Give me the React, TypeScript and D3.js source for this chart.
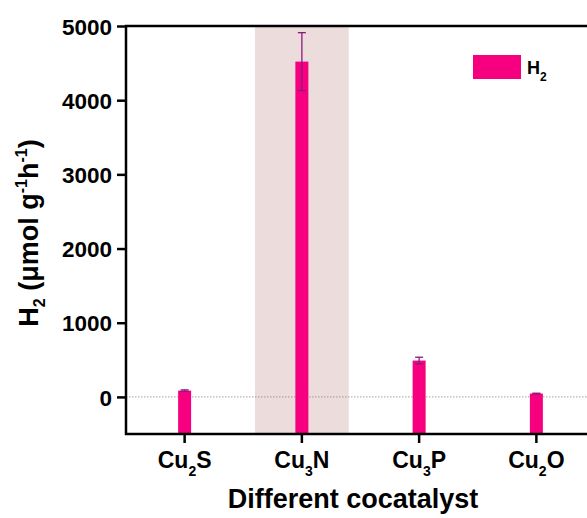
import React, { useEffect, useRef } from "react";
import * as d3 from "d3";

// catalysts and measured H2 evolution rates (µmol g-1 h-1)
const names = ["Cu2S", "Cu3N", "Cu3P", "Cu2O"];
const bases = ["Cu", "Cu", "Cu", "Cu"];
const subs = ["2", "3", "3", "2"];
const tails = ["S", "N", "P", "O"];
const rates = [85, 4520, 490, 45];
const errors = [10, 390, 45, 5];
const yTicks = [0, 1000, 2000, 3000, 4000, 5000];
const highlighted = "Cu3N";

const FONT = "'Liberation Sans', Arial, Helvetica, sans-serif";
const PINK = "#f7007f";

function App() {
  const ref = useRef<SVGSVGElement>(null);

  useEffect(() => {
    drawChart();
  }, []);

  function drawChart() {
    const svg = d3.select(ref.current);
    svg.selectAll("*").remove();

    const left = 126, right = 595, top = 26, bottom = 434;

    const x = d3.scaleBand<string>().domain(names).range([left, right]).padding(0);
    const y = d3.scaleLinear().domain([-500, 5000]).range([bottom, top]);
    const cx = (n: string) => (x(n) as number) + x.bandwidth() / 2;
    const barW = 13;

    // highlight band
    svg.append("rect")
      .attr("x", cx(highlighted) - x.bandwidth() * 0.4)
      .attr("y", top)
      .attr("width", x.bandwidth() * 0.8)
      .attr("height", bottom - top)
      .attr("fill", "#ecdcdc");

    // zero line
    svg.append("line")
      .attr("x1", left).attr("x2", 587)
      .attr("y1", y(0)).attr("y2", y(0))
      .attr("stroke", "#888").attr("stroke-width", 0.8)
      .attr("stroke-dasharray", "1.5,1.5");

    // bars from the bottom of the frame
    svg.append("g").selectAll("rect")
      .data(names)
      .join("rect")
      .attr("x", d => cx(d) - barW / 2)
      .attr("y", (d, i) => y(rates[i]))
      .attr("width", barW)
      .attr("height", (d, i) => bottom - y(rates[i]))
      .attr("fill", PINK);

    // error bars
    const eg = svg.append("g").attr("stroke", "#8a1a7e").attr("stroke-width", 1.3);
    names.forEach((n, i) => {
      const c = cx(n);
      const hi = y(rates[i] + errors[i]);
      const lo = y(rates[i] - errors[i]);
      eg.append("line").attr("x1", c).attr("x2", c).attr("y1", hi).attr("y2", lo);
      eg.append("line").attr("x1", c - 4).attr("x2", c + 4).attr("y1", hi).attr("y2", hi);
      eg.append("line").attr("x1", c - 4).attr("x2", c + 4).attr("y1", lo).attr("y2", lo);
    });

    // frame: left, bottom, top
    const frame = svg.append("g").attr("stroke", "#000").attr("stroke-width", 2.5).attr("fill", "none");
    frame.append("path").attr("d", `M587,${top}H${left}V${bottom}H587`);

    // y axis
    const yAxis = svg.append("g")
      .attr("transform", `translate(${left},0)`)
      .call(d3.axisLeft(y).tickValues(yTicks).tickSize(9).tickFormat(d3.format("d")));
    yAxis.select(".domain").remove();
    yAxis.selectAll(".tick line").attr("stroke-width", 2.5);
    yAxis.selectAll(".tick text")
      .attr("x", -14)
      .attr("dy", "0.36em")
      .style("font-family", FONT)
      .style("font-weight", "bold")
      .style("font-size", "22.5px")
      .attr("fill", "#000");

    // x axis
    const xAxis = svg.append("g")
      .attr("transform", `translate(0,${bottom})`)
      .call(d3.axisBottom(x).tickSize(9).tickFormat(() => ""));
    xAxis.select(".domain").remove();
    xAxis.selectAll(".tick line").attr("stroke-width", 2.5);

    names.forEach((n, i) => {
      const t = svg.append("text")
        .attr("x", cx(n))
        .attr("y", 468)
        .attr("text-anchor", "middle")
        .style("font-family", FONT)
        .style("font-weight", "bold")
        .style("font-size", "23px");
      t.append("tspan").text(bases[i]);
      t.append("tspan").attr("dy", 8).style("font-size", "14px").text(subs[i]);
      t.append("tspan").attr("dy", -8).text(tails[i]);
    });

    // x title
    svg.append("text")
      .attr("x", 353)
      .attr("y", 508)
      .attr("text-anchor", "middle")
      .style("font-family", FONT)
      .style("font-weight", "bold")
      .style("font-size", "27px")
      .text("Different cocatalyst");

    // y title
    const yt = svg.append("text")
      .attr("transform", "translate(38,233) rotate(-90)")
      .attr("text-anchor", "middle")
      .style("font-family", FONT)
      .style("font-weight", "bold")
      .style("font-size", "27px");
    yt.append("tspan").text("H");
    yt.append("tspan").attr("dy", 7).style("font-size", "16px").text("2");
    yt.append("tspan").attr("dy", -7).text(" (μmol g");
    yt.append("tspan").attr("dy", -11).style("font-size", "16px").text("-1");
    yt.append("tspan").attr("dy", 11).text("h");
    yt.append("tspan").attr("dy", -11).style("font-size", "16px").text("-1");
    yt.append("tspan").attr("dy", 11).text(")");

    // legend
    svg.append("rect")
      .attr("x", 473).attr("y", 55)
      .attr("width", 48).attr("height", 24)
      .attr("fill", PINK);
    const lt = svg.append("text")
      .attr("x", 527).attr("y", 74)
      .style("font-family", FONT)
      .style("font-weight", "bold")
      .style("font-size", "18px");
    lt.append("tspan").text("H");
    lt.append("tspan").attr("dy", 7).style("font-size", "12px").text("2");
  }

  return (
    <svg
      ref={ref}
      width={587}
      height={518}
      style={{ position: "absolute", left: 0, top: 0, background: "#fff" }}
    />
  );
}

export default App;
